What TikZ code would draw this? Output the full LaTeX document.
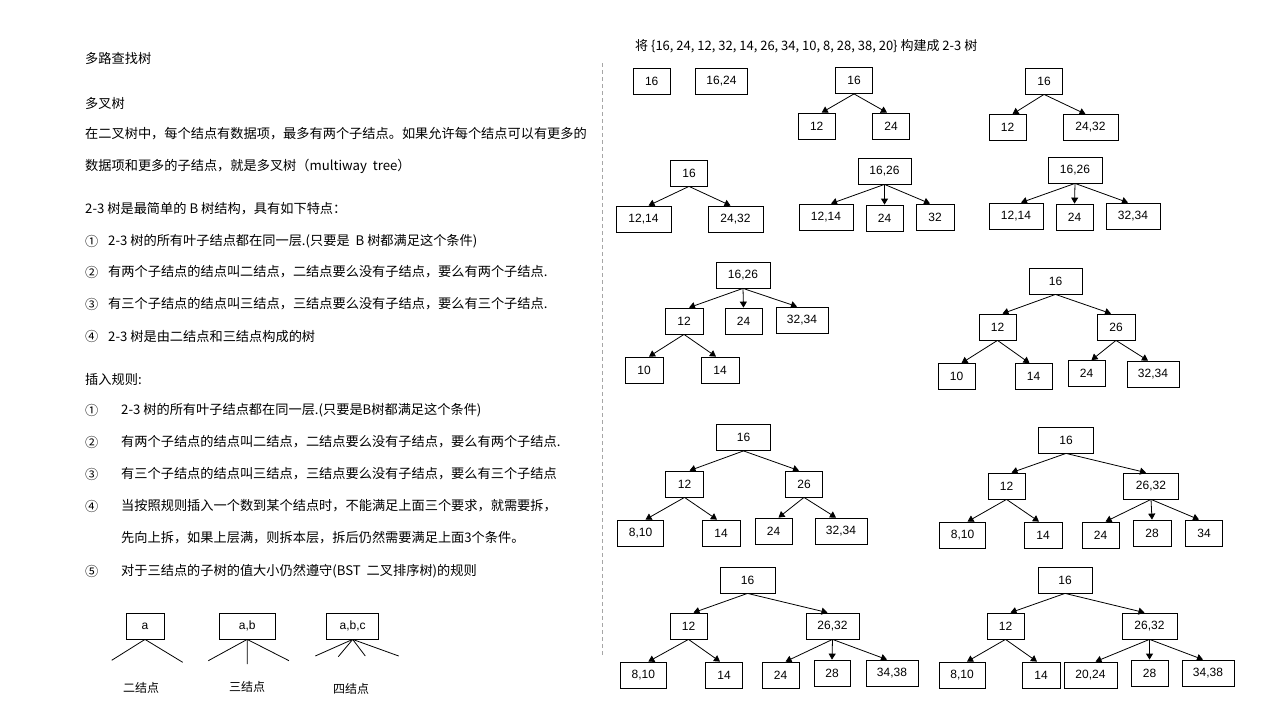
\documentclass[tikz,border=0pt]{standalone}
\usepackage{fontspec}
\setmainfont{Noto Sans CJK SC}
\newfontfamily\boxfont{Liberation Sans}
\usetikzlibrary{arrows.meta,calc}
\tikzset{
  bx/.style={draw,line width=0.8pt,minimum height=26pt,minimum width=37pt,inner xsep=10pt,inner ysep=0pt,font=\boxfont\fontsize{12}{14}\selectfont},
  wbx/.style={bx,minimum width=54pt},
  arr/.style={line width=0.8pt,-{Triangle[length=6pt,width=7pt]}},
  ln/.style={line width=0.8pt},
  txt/.style={anchor=west,inner sep=0pt,font=\fontsize{13.2}{15}\selectfont},
  num/.style={anchor=west,inner sep=0pt,font=\fontsize{13.2}{15}\selectfont},
  lbl/.style={inner sep=0pt,font=\fontsize{12}{14}\selectfont}
}
\newcommand\tarr[3]{\draw[arr] (#1.south) -- ($(#2.north)+(#3,0)$);}
\begin{document}
\begin{tikzpicture}[x=1pt,y=-1pt]
\useasboundingbox (0,0) rectangle (1280,720);
% left text
\node[txt] (h1) at (85,58) {多路查找树};
\node[txt] (h2) at (85,103) {多叉树};
\node[txt] (p1) at (85,134) {在二叉树中，每个结点有数据项，最多有两个子结点。如果允许每个结点可以有更多的};
\node[txt] (p2) at (85,166) {数据项和更多的子结点，就是多叉树（multiway\ \ tree）};
\node[txt] (p3) at (85,209) {2-3 树是最简单的 B 树结构，具有如下特点：};
\node[num] (n1) at (85,241) {①}; \node[txt] (l1) at (108,241) {2-3 树的所有叶子结点都在同一层.(只要是\ \ B 树都满足这个条件)};
\node[num] (n2) at (85,272) {②}; \node[txt] (l2) at (108,272) {有两个子结点的结点叫二结点，二结点要么没有子结点，要么有两个子结点.};
\node[num] (n3) at (85,304) {③}; \node[txt] (l3) at (108,304) {有三个子结点的结点叫三结点，三结点要么没有子结点，要么有三个子结点.};
\node[num] (n4) at (85,336) {④}; \node[txt] (l4) at (108,336) {2-3 树是由二结点和三结点构成的树};
\node[txt] (h3) at (85,379) {插入规则:};
\node[num] (m1) at (85,410) {①}; \node[txt] (r1) at (121,410) {2-3 树的所有叶子结点都在同一层.(只要是B树都满足这个条件)};
\node[num] (m2) at (85,442) {②}; \node[txt] (r2) at (121,442) {有两个子结点的结点叫二结点，二结点要么没有子结点，要么有两个子结点.};
\node[num] (m3) at (85,474) {③}; \node[txt] (r3) at (121,474) {有三个子结点的结点叫三结点，三结点要么没有子结点，要么有三个子结点};
\node[num] (m4) at (85,506) {④}; \node[txt] (r4) at (121,506) {当按照规则插入一个数到某个结点时，不能满足上面三个要求，就需要拆，};
\node[txt] (r4b) at (121,538) {先向上拆，如果上层满，则拆本层，拆后仍然需要满足上面3个条件。};
\node[num] (m5) at (85,571) {⑤}; \node[txt] (r5) at (121,571) {对于三结点的子树的值大小仍然遵守(BST\ \ 二叉排序树)的规则};
% small node kinds
\node[bx,minimum width=38pt] (ka) at (145,626) {a};
\coordinate (ka1) at (111.7,660.3); \coordinate (ka2) at (182.7,662.3);
\draw[ln] (ka.south) -- (ka1); \draw[ln] (ka.south) -- (ka2);
\node[bx,minimum width=56pt] (kb) at (247.2,626) {a,b};
\coordinate (kb1) at (208.3,660.7); \coordinate (kb2) at (247.3,664); \coordinate (kb3) at (289,660.7);
\draw[ln] (kb.south) -- (kb1); \draw[ln] (kb.south) -- (kb2); \draw[ln] (kb.south) -- (kb3);
\node[bx,minimum width=52pt] (kc) at (352.7,626) {a,b,c};
\coordinate (kc1) at (315.3,656); \coordinate (kc2) at (338.3,656.7); \coordinate (kc3) at (365.3,656); \coordinate (kc4) at (398.7,656);
\draw[ln] (kc.south) -- (kc1); \draw[ln] (kc.south) -- (kc2); \draw[ln] (kc.south) -- (kc3); \draw[ln] (kc.south) -- (kc4);
\node[lbl] (la) at (141,688) {二结点};
\node[lbl] (lb) at (247,687) {三结点};
\node[lbl] (lc) at (351,689) {四结点};
% divider
\coordinate (d1) at (602.5,63); \coordinate (d2) at (602.5,655);
\draw[gray!70,line width=0.6pt,dash pattern=on 4pt off 3pt] (d1) -- (d2);
% title
\node[txt,font=\fontsize{13}{15}\selectfont] (tt) at (635,46) {将 \{16, 24, 12, 32, 14, 26, 34, 10, 8, 28, 38, 20\} 构建成 2-3 树};
% T1, T2
\node[bx] (t1) at (651.7,81) {16};
\node[bx,minimum width=52pt] (t2) at (721.5,81) {16,24};
% T3
\node[bx] (t3r) at (854,80.5) {16};
\node[bx] (t3a) at (816.7,126) {12};
\node[bx] (t3b) at (891,126) {24};
\tarr{t3r}{t3a}{5} \tarr{t3r}{t3b}{-4}
% T4
\node[bx] (t4r) at (1044,81) {16};
\node[bx] (t4a) at (1007.5,127.5) {12};
\node[bx,minimum width=55pt] (t4b) at (1090.5,127.5) {24,32};
\tarr{t4r}{t4a}{5} \tarr{t4r}{t4b}{-5}
% T5
\node[bx] (t5r) at (689,173) {16};
\node[bx,minimum width=55pt] (t5a) at (643.5,219) {12,14};
\node[bx,minimum width=55pt] (t5b) at (735.5,219) {24,32};
\tarr{t5r}{t5a}{5} \tarr{t5r}{t5b}{-5}
% T6
\node[bx,minimum width=53pt] (t6r) at (884.5,171) {16,26};
\node[bx,minimum width=54pt] (t6a) at (826,217) {12,14};
\node[bx] (t6b) at (884.5,218) {24};
\node[bx,minimum width=38pt] (t6c) at (935,217) {32};
\tarr{t6r}{t6a}{5} \tarr{t6r}{t6b}{0} \tarr{t6r}{t6c}{-5}
% T7
\node[bx,minimum width=54pt] (t7r) at (1075,170) {16,26};
\node[bx,minimum width=54pt] (t7a) at (1016,216) {12,14};
\node[bx] (t7b) at (1074.5,217) {24};
\node[bx,minimum width=54pt] (t7c) at (1133,216) {32,34};
\tarr{t7r}{t7a}{5} \tarr{t7r}{t7b}{0} \tarr{t7r}{t7c}{-5}
% T8
\node[wbx] (t8r) at (743,275) {16,26};
\node[bx,minimum width=38pt] (t8a) at (684,321) {12};
\node[bx] (t8b) at (743.5,321) {24};
\node[bx,minimum width=52pt] (t8c) at (802,320) {32,34};
\node[bx,minimum width=38pt] (t8d) at (644,370) {10};
\node[bx,minimum width=38pt] (t8e) at (720,370) {14};
\tarr{t8r}{t8a}{5} \tarr{t8r}{t8b}{0} \tarr{t8r}{t8c}{-5}
\tarr{t8a}{t8d}{5} \tarr{t8a}{t8e}{-4}
% T9
\node[wbx,minimum width=53pt] (t9r) at (1055.5,281) {16};
\node[bx] (t9a) at (997.5,327) {12};
\node[bx,minimum width=38pt] (t9b) at (1116,327) {26};
\node[bx] (t9c) at (956.5,376.5) {10};
\node[bx] (t9d) at (1033.5,376.5) {14};
\node[bx] (t9e) at (1086.5,373.5) {24};
\node[bx,minimum width=52pt] (t9f) at (1153,374) {32,34};
\tarr{t9r}{t9a}{5} \tarr{t9r}{t9b}{-5}
\tarr{t9a}{t9c}{5} \tarr{t9a}{t9d}{-4}
\tarr{t9b}{t9e}{5} \tarr{t9b}{t9f}{-5}
% T10
\node[wbx] (t10r) at (743.5,437.5) {16};
\node[bx,minimum width=38pt] (t10a) at (684.5,484) {12};
\node[bx] (t10b) at (804,484) {26};
\node[bx,minimum width=46pt] (t10c) at (640.5,533) {8,10};
\node[bx,minimum width=38pt] (t10d) at (721,533) {14};
\node[bx] (t10e) at (773.5,531) {24};
\node[bx,minimum width=52pt] (t10f) at (841,531) {32,34};
\tarr{t10r}{t10a}{5} \tarr{t10r}{t10b}{-5}
\tarr{t10a}{t10c}{5} \tarr{t10a}{t10d}{-4}
\tarr{t10b}{t10e}{5} \tarr{t10b}{t10f}{-5}
% T11
\node[wbx,minimum width=55pt] (t11r) at (1066,440) {16};
\node[bx] (t11a) at (1006.5,486) {12};
\node[bx,minimum width=55pt] (t11b) at (1151,486) {26,32};
\node[bx,minimum width=46pt] (t11c) at (962.5,535) {8,10};
\node[bx,minimum width=38pt] (t11d) at (1043,535) {14};
\node[bx] (t11e) at (1100.5,535) {24};
\node[bx,minimum width=38pt] (t11f) at (1152,533) {28};
\node[bx] (t11g) at (1204,533) {34};
\tarr{t11r}{t11a}{5} \tarr{t11r}{t11b}{-5}
\tarr{t11a}{t11c}{5} \tarr{t11a}{t11d}{-4}
\tarr{t11b}{t11e}{5} \tarr{t11b}{t11f}{0} \tarr{t11b}{t11g}{-5}
% T12
\node[wbx,minimum width=55pt] (t12r) at (747.5,580) {16};
\node[bx] (t12a) at (688.5,626) {12};
\node[bx,minimum width=53pt] (t12b) at (832.5,626) {26,32};
\node[bx,minimum width=46pt] (t12c) at (643.3,675) {8,10};
\node[bx] (t12d) at (724,675) {14};
\node[bx] (t12e) at (780.5,675) {24};
\node[bx,minimum width=36pt] (t12f) at (832,673) {28};
\node[bx,minimum width=52pt] (t12g) at (892,673) {34,38};
\tarr{t12r}{t12a}{5} \tarr{t12r}{t12b}{-5}
\tarr{t12a}{t12c}{5} \tarr{t12a}{t12d}{-4}
\tarr{t12b}{t12e}{5} \tarr{t12b}{t12f}{0} \tarr{t12b}{t12g}{-5}
% T13
\node[wbx,minimum width=54pt] (t13r) at (1065,580) {16};
\node[bx] (t13a) at (1005.5,626) {12};
\node[bx,minimum width=55pt] (t13b) at (1149.5,626) {26,32};
\node[bx,minimum width=46pt] (t13c) at (962,675) {8,10};
\node[bx,minimum width=38pt] (t13d) at (1041,675) {14};
\node[bx,minimum width=53pt] (t13e) at (1090.5,675) {20,24};
\node[bx] (t13f) at (1149.5,673) {28};
\node[bx,minimum width=52pt] (t13g) at (1208,673) {34,38};
\tarr{t13r}{t13a}{5} \tarr{t13r}{t13b}{-5}
\tarr{t13a}{t13c}{5} \tarr{t13a}{t13d}{-4}
\tarr{t13b}{t13e}{5} \tarr{t13b}{t13f}{0} \tarr{t13b}{t13g}{-5}
\end{tikzpicture}
\end{document}
